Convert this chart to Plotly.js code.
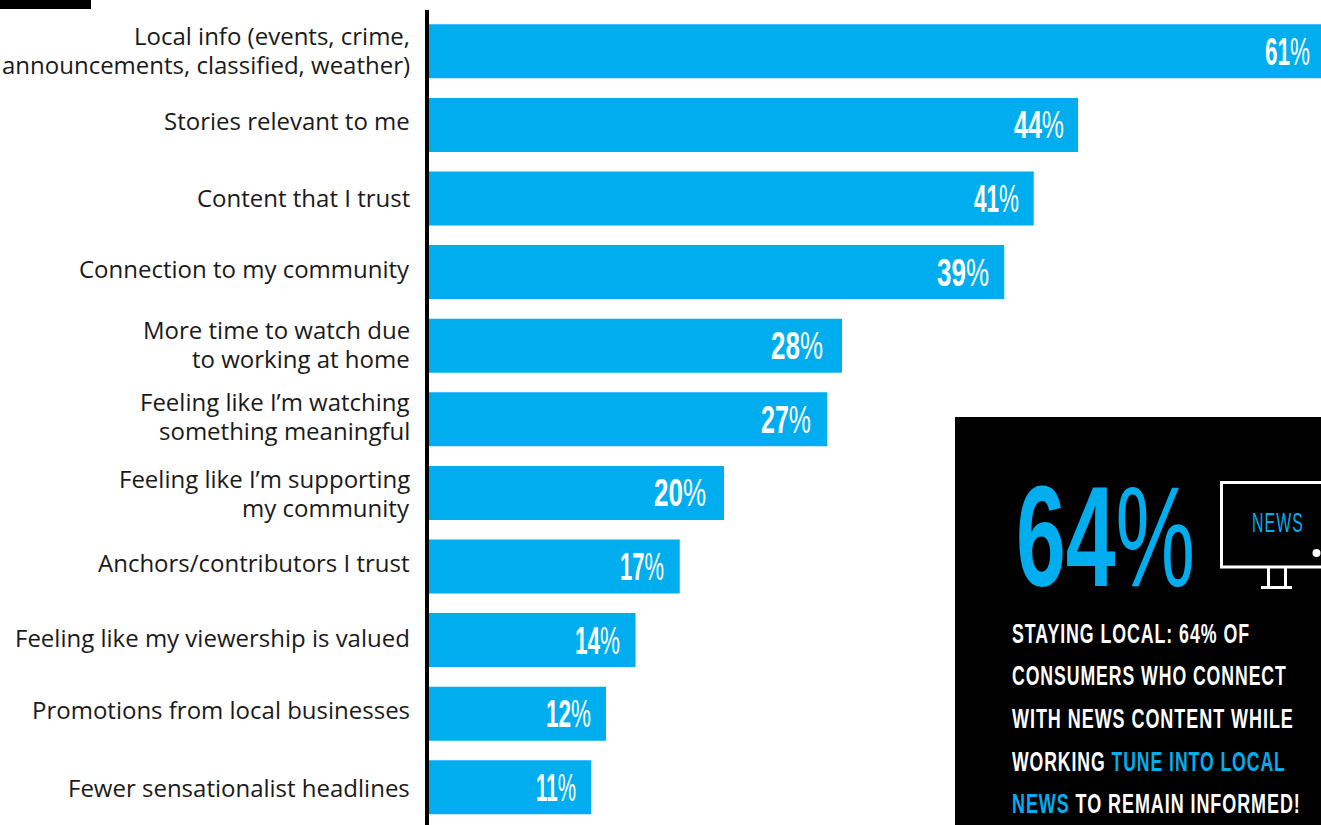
<!DOCTYPE html>
<html>
<head>
<meta charset="utf-8">
<script src="https://cdn.plot.ly/plotly-3.0.1.min.js"></script>
<style>
html,body{margin:0;padding:0;background:#fff;overflow:hidden;width:1321px;height:825px}
#chart{width:1340px;height:825px}
</style>
</head>
<body>
<div id="chart"></div>
<script>
// Survey answers, top to bottom
const categories = [
  "Local info (events, crime,<br>announcements, classified, weather)",
  "Stories relevant to me",
  "Content that I trust",
  "Connection to my community",
  "More time to watch due<br>to working at home",
  "Feeling like I’m watching<br>something meaningful",
  "Feeling like I’m supporting<br>my community",
  "Anchors/contributors I trust",
  "Feeling like my viewership is valued",
  "Promotions from local businesses",
  "Fewer sensationalist headlines"
];
const shares = [61, 44, 41, 39, 28, 27, 20, 17, 14, 12, 11];

// Fine placement of the labels, in pixels
const labelNudge = [1, 4, 1, 4, 2, 3, 0, 4, 3, 4, 0];
const valueGap = [17, 12, 13, 13, 17, 14, 16, 14, 14, 13, 13];
const valueWidth = [45, 50, 45, 52, 52, 50, 52, 44, 45, 45, 40];

const panelHeadline = "64";
const panelLines = [
  'STAYING LOCAL: 64% OF',
  'CONSUMERS WHO CONNECT',
  'WITH NEWS CONTENT WHILE',
  'WORKING <span style="color:#00AEEF">TUNE INTO LOCAL</span>',
  '<span style="color:#00AEEF">NEWS</span> TO REMAIN INFORMED!'
];
const panelCentres = [633, 675, 718, 761, 803];
const panelWidths = [238, 275, 282, 274, 289];

const W = 1340, H = 825, L = 429, T = 10;
const BLUE = "#00AEEF";
const FACE = '"Liberation Sans",sans-serif';
const LABEL_LEADING = 29;

// Page pixels to paper coordinates, for the furniture around the plot
const px = x => (x - L) / (W - L);
const py = y => 1 - (y - T) / (H - T);
const box = (x0, y0, x1, y1, fill) => ({type:"rect", xref:"paper", yref:"paper",
  x0:px(x0), x1:px(x1), y0:py(y0), y1:py(y1), fillcolor:fill, line:{width:0}, layer:"above"});

const shapes = [
  box(0, 0, 91, 9, "#000"),
  box(955, 417, W, H, "#000"),
  {type:"rect", xref:"paper", yref:"paper", x0:px(1221.5), x1:px(1335), y0:py(482.5), y1:py(567),
   line:{color:"#fff", width:3}, fillcolor:"rgba(0,0,0,0)", layer:"above"},
  box(1267, 568, 1270, 587, "#fff"),
  box(1284, 568, 1287, 587, "#fff"),
  box(1261, 586, 1292, 589, "#fff"),
  {type:"circle", xref:"paper", yref:"paper", x0:px(1312.5), x1:px(1320.5), y0:py(549), y1:py(557),
   fillcolor:"#fff", line:{width:0}, layer:"above"}
];

const annotations = [];
const fits = [];  // annotation index -> target width, anchor side, tracking

// Category labels: one annotation per line so the leading stays tight
categories.forEach((c, i) => {
  const rows = c.split("<br>");
  rows.forEach((row, j) => annotations.push({
    x:0, y:c, xref:"x", yref:"y", xanchor:"right", yanchor:"middle", align:"right",
    xshift:-17, yshift:labelNudge[i] + ((rows.length - 1) / 2 - j) * LABEL_LEADING,
    showarrow:false, text:row,
    font:{family:'"Open Sans",sans-serif', size:24, color:"#1a1a1a"}
  }));
});

// Value labels inside the bar ends: heavy digits, lighter percent sign
shares.forEach((v, i) => {
  fits.push({index:annotations.length, width:valueWidth[i], right:true, tracking:0});
  annotations.push({
    x:v, y:categories[i], xref:"x", yref:"y", xanchor:"right", yanchor:"middle",
    xshift:-valueGap[i], showarrow:false, text:"<b>" + v + "</b>%",
    font:{family:FACE, size:39, color:"#fff"}
  });
});

// Call-out panel
fits.push({index:annotations.length, width:179, right:false, tracking:0});
annotations.push({x:px(1014), y:py(536), xref:"paper", yref:"paper", xanchor:"left", yanchor:"middle",
  showarrow:false, text:"<b>" + panelHeadline + "</b>%", font:{family:FACE, size:143, color:BLUE}});
fits.push({index:annotations.length, width:52, right:false, tracking:2});
annotations.push({x:px(1254), y:py(523), xref:"paper", yref:"paper", xanchor:"left", yanchor:"middle",
  showarrow:false, text:"NEWS", font:{family:FACE, size:27, color:BLUE}});
panelLines.forEach((t, i) => {
  fits.push({index:annotations.length, width:panelWidths[i], right:false, tracking:1.5});
  annotations.push({x:px(1010), y:py(panelCentres[i]), xref:"paper", yref:"paper",
    xanchor:"left", yanchor:"middle", align:"left", showarrow:false, text:"<b>" + t + "</b>",
    font:{family:FACE, size:28, color:"#fff"}});
});

const data = [{
  type:"bar", orientation:"h", x:shares, y:categories,
  marker:{color:BLUE, line:{width:0}}, hoverinfo:"skip"
}];

const layout = {
  width:W, height:H, showlegend:false, bargap:0.266,
  margin:{l:L, r:0, t:T, b:0, pad:0},
  paper_bgcolor:"#fff", plot_bgcolor:"#fff",
  xaxis:{range:[0, (W - L) / 14.75], visible:false, fixedrange:true},
  yaxis:{type:"category", categoryorder:"array", categoryarray:categories,
    range:[10.512, -0.561], showticklabels:false, ticks:"", showgrid:false, zeroline:false,
    showline:true, linecolor:"#000", linewidth:4, fixedrange:true},
  shapes, annotations
};

// Squeeze a drawn annotation text horizontally to a given width, for a tall condensed look
function squeeze(gd, fit) {
  const t = gd.querySelector('.annotation[data-index="' + fit.index + '"] text');
  if (!t) return;
  if (fit.tracking) t.style.letterSpacing = fit.tracking + "px";
  const b = t.getBBox();
  const ox = fit.right ? b.x + b.width : b.x;
  const s = fit.width / b.width;
  t.setAttribute("transform", `translate(${ox},0) scale(${s},1) translate(${-ox},0)`);
}

Plotly.newPlot("chart", data, layout, {displayModeBar:false, staticPlot:true}).then(gd => {
  fits.forEach(f => squeeze(gd, f));
});
</script>
</body>
</html>
